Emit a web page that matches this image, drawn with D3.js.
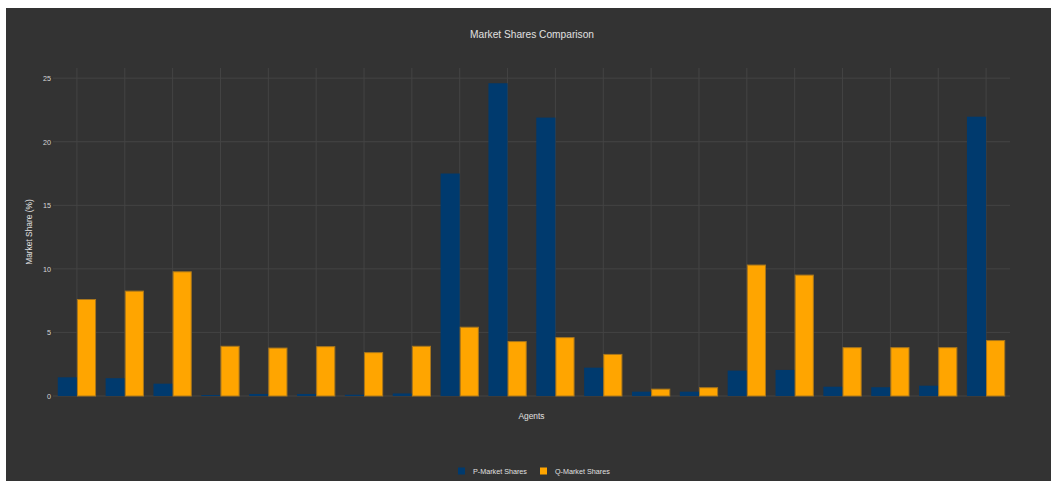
<!DOCTYPE html>
<html>
<head>
<meta charset="utf-8">
<script src="https://cdn.jsdelivr.net/npm/d3@7"></script>
<style>
  body { margin: 0; background: #ffffff; }
  svg { display: block; font-family: "Liberation Sans", Arial, sans-serif; }
</style>
</head>
<body>
<div id="chart"></div>
<script>
// 1: DATA
const agents = d3.range(1, 21).map(i => "Agent " + i);
const pShares = [1.47, 1.40, 0.97, 0.08, 0.16, 0.16, 0.10, 0.20, 17.5, 24.6,
                 21.9, 2.23, 0.34, 0.34, 2.00, 2.05, 0.73, 0.69, 0.81, 21.97];
const qShares = [7.63, 8.29, 9.81, 3.95, 3.81, 3.92, 3.45, 3.95, 5.45, 4.32,
                 4.63, 3.31, 0.58, 0.69, 10.34, 9.55, 3.84, 3.84, 3.84, 4.40];
const seriesNames = ["P-Market Shares", "Q-Market Shares"];
const yTicks = [0, 5, 10, 15, 20, 25];

// 2: LAYOUT
const W = 1051, H = 481;
const margin = { top: 68, right: 41, bottom: 85, left: 53 };
const colors = { P: "#003a6e", Q: "#ffa500", Qstroke: "#a8761c" };

const svg = d3.select("#chart").append("svg")
    .attr("width", W)
    .attr("height", H);

// dark paper, offset like the screenshot
svg.append("rect")
    .attr("x", 6).attr("y", 8)
    .attr("width", W - 6).attr("height", H - 8)
    .attr("fill", "#333333");

// 3: SCALES
const x = d3.scaleBand()
    .domain(agents)
    .range([margin.left, W - margin.right])
    .paddingInner(0.2)
    .paddingOuter(0.1);

const xSub = d3.scaleBand()
    .domain(["P", "Q"])
    .range([0, x.bandwidth()]);

const y = d3.scaleLinear()
    .domain([0, 25.8])
    .range([H - margin.bottom, margin.top]);

// 4: GRID
const grid = svg.append("g").attr("stroke", "#444444").attr("stroke-width", 1);
grid.selectAll("line.v")
    .data(agents)
    .enter().append("line")
    .attr("class", "v")
    .attr("x1", d => x(d) + x.bandwidth() / 2)
    .attr("x2", d => x(d) + x.bandwidth() / 2)
    .attr("y1", y.range()[1])
    .attr("y2", y.range()[0]);

grid.selectAll("line.h")
    .data(yTicks)
    .enter().append("line")
    .attr("class", "h")
    .attr("x1", margin.left)
    .attr("x2", W - margin.right)
    .attr("y1", d => y(d))
    .attr("y2", d => y(d));

// y axis labels (no domain line, no ticks)
const yAxis = svg.append("g")
    .attr("transform", `translate(${margin.left},0)`)
    .call(d3.axisLeft(y).tickValues(yTicks).tickSize(0).tickPadding(2));
yAxis.select(".domain").remove();
yAxis.selectAll("text")
    .attr("fill", "#d8d8d8")
    .style("font-size", "7.2px")
    .style("font-family", "'Liberation Sans', Arial, sans-serif");

// 5: BARS
const groups = svg.append("g").selectAll("g")
    .data(agents)
    .enter().append("g")
    .attr("transform", d => `translate(${x(d)},0)`);

groups.append("rect")
    .attr("x", xSub("P"))
    .attr("width", xSub.bandwidth())
    .attr("y", (d, i) => y(pShares[i]))
    .attr("height", (d, i) => y(0) - y(pShares[i]))
    .attr("fill", colors.P);

groups.append("rect")
    .attr("x", xSub("Q") + 0.5)
    .attr("width", xSub.bandwidth() - 1)
    .attr("y", (d, i) => y(qShares[i]) + 0.5)
    .attr("height", (d, i) => y(0) - y(qShares[i]) - 0.5)
    .attr("fill", colors.Q)
    .attr("stroke", colors.Qstroke)
    .attr("stroke-width", 1);

// 6: TITLES
svg.append("text")
    .attr("x", 532)
    .attr("y", 38)
    .attr("text-anchor", "middle")
    .attr("fill", "#e0e0e0")
    .style("font-size", "10.2px")
    .text("Market Shares Comparison");

svg.append("text")
    .attr("x", (margin.left + W - margin.right) / 2)
    .attr("y", 419)
    .attr("text-anchor", "middle")
    .attr("fill", "#e0e0e0")
    .style("font-size", "8.4px")
    .text("Agents");

svg.append("text")
    .attr("transform", `translate(32,${(y.range()[0] + y.range()[1]) / 2}) rotate(-90)`)
    .attr("text-anchor", "middle")
    .attr("fill", "#e0e0e0")
    .style("font-size", "8.4px")
    .text("Market Share (%)");

// 7: LEGEND
const legendX = [458, 540];
const legend = svg.append("g").selectAll("g")
    .data(seriesNames)
    .enter().append("g")
    .attr("transform", (d, i) => `translate(${legendX[i]},467.5)`);

legend.append("rect")
    .attr("width", 7).attr("height", 7)
    .attr("fill", (d, i) => i === 0 ? colors.P : colors.Q);

legend.append("text")
    .attr("x", 15)
    .attr("y", 6.3)
    .attr("fill", "#e0e0e0")
    .style("font-size", "7.2px")
    .text(d => d);
</script>
</body>
</html>
